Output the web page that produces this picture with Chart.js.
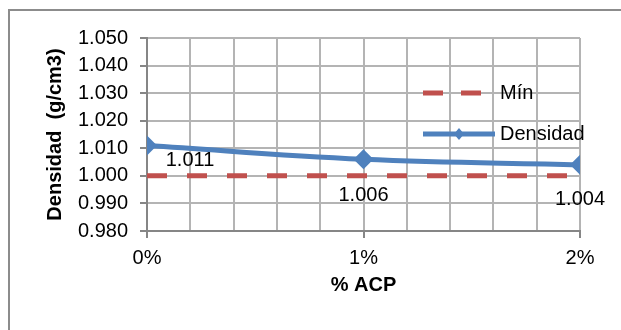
<!DOCTYPE html>
<html>
<head>
<meta charset="utf-8">
<script src="https://cdn.jsdelivr.net/npm/chart.js@4/dist/chart.umd.min.js"></script>
<style>
  html, body { margin: 0; padding: 0; background: #ffffff; }
  #wrap { width: 621px; height: 330px; }
</style>
</head>
<body>
<div id="wrap"><canvas id="c" width="621" height="330"></canvas></div>
<script>
// Densidad vs. % ACP
const acpPercent = [0, 1, 2];
const xTickLabels = ['0%', '1%', '2%'];
const densidad = [1.011, 1.006, 1.004];
const minimo = [1.000, 1.000, 1.000];
const yTickLabels = ['0.980', '0.990', '1.000', '1.010', '1.020', '1.030', '1.040', '1.050'];

const FONT = "'Liberation Sans', Arial, sans-serif";
const BLUE = '#4F81BD';
const RED = '#C0504D';
const GRID = '#b4b4b4';
const AXIS = '#868686';

// Outer frame of the chart object
const framePlugin = {
  id: 'frame',
  beforeDraw(chart) {
    const ctx = chart.ctx;
    ctx.save();
    ctx.fillStyle = '#ffffff';
    ctx.fillRect(0, 0, chart.width, chart.height);
    ctx.strokeStyle = '#8c8c8c';
    ctx.lineWidth = 2;
    ctx.strokeRect(9, 10, chart.width + 20, chart.height + 20);
    ctx.restore();
  }
};

// Value labels for the Densidad points
const valueLabelPlugin = {
  id: 'valueLabels',
  afterDatasetsDraw(chart) {
    const ctx = chart.ctx;
    const meta = chart.getDatasetMeta(0);
    const shifts = [[43, 15], [0, 36], [0, 35]];
    ctx.save();
    ctx.font = '20px ' + FONT;
    ctx.fillStyle = '#000000';
    ctx.textAlign = 'center';
    ctx.textBaseline = 'middle';
    meta.data.forEach((pt, i) => {
      const s = shifts[i] || [0, 30];
      ctx.fillText(densidad[i].toFixed(3), pt.x + s[0], pt.y + s[1]);
    });
    ctx.restore();
  }
};

// Legend drawn inside the plot area
const innerLegendPlugin = {
  id: 'innerLegend',
  afterDraw(chart) {
    const ctx = chart.ctx;
    const x0 = 423, x1 = 487, tx = 500;
    const yMin = 93, yDen = 134;
    ctx.save();
    ctx.lineWidth = 5;
    ctx.strokeStyle = RED;
    ctx.setLineDash([20, 18]);
    ctx.beginPath();
    ctx.moveTo(x0, yMin);
    ctx.lineTo(x1, yMin);
    ctx.stroke();
    ctx.setLineDash([]);
    ctx.strokeStyle = BLUE;
    ctx.beginPath();
    ctx.moveTo(x0, yDen);
    ctx.lineTo(x1 + 8, yDen);
    ctx.stroke();
    const cx = 459;
    ctx.fillStyle = BLUE;
    ctx.beginPath();
    ctx.moveTo(cx, yDen - 6);
    ctx.lineTo(cx + 5, yDen);
    ctx.lineTo(cx, yDen + 6);
    ctx.lineTo(cx - 5, yDen);
    ctx.closePath();
    ctx.fill();
    ctx.font = '20px ' + FONT;
    ctx.fillStyle = '#000000';
    ctx.textAlign = 'left';
    ctx.textBaseline = 'middle';
    ctx.fillText('Mín', tx, yMin);
    ctx.fillText('Densidad', tx, yDen);
    ctx.restore();
  }
};

const toPoints = (ys) => acpPercent.map((x, i) => ({ x: x, y: ys[i] }));

new Chart(document.getElementById('c'), {
  type: 'line',
  data: {
    datasets: [
      {
        label: 'Densidad',
        data: toPoints(densidad),
        borderColor: BLUE,
        backgroundColor: BLUE,
        borderWidth: 5,
        tension: 0.4,
        pointStyle: 'rectRot',
        pointRadius: 10,
        pointBackgroundColor: BLUE,
        pointBorderWidth: 0,
        fill: false
      },
      {
        label: 'Mín',
        data: toPoints(minimo),
        borderColor: RED,
        backgroundColor: RED,
        borderWidth: 5,
        borderDash: [20, 20],
        pointRadius: 0,
        tension: 0,
        fill: false
      }
    ]
  },
  options: {
    responsive: false,
    devicePixelRatio: 1,
    animation: false,
    layout: { padding: { left: 0, top: 38, right: 41, bottom: 0 } },
    plugins: {
      legend: { display: false },
      tooltip: { enabled: false }
    },
    scales: {
      x: {
        type: 'linear',
        min: 0,
        max: 2,
        afterFit(s) { s.height = 99; },
        ticks: {
          stepSize: 0.2,
          autoSkip: false,
          maxRotation: 0,
          padding: 8,
          color: '#000000',
          font: { family: FONT, size: 20 },
          callback(value) {
            const r = Math.round(value);
            return Math.abs(value - r) < 1e-6 ? xTickLabels[r] : '';
          }
        },
        grid: {
          color: GRID,
          lineWidth: 2,
          drawTicks: true,
          tickLength: 7,
          tickColor(ctx) {
            const v = ctx.tick ? ctx.tick.value : 0;
            return Math.abs(v - Math.round(v)) < 1e-6 ? AXIS : 'rgba(0,0,0,0)';
          }
        },
        border: { color: AXIS, width: 2 },
        title: {
          display: true,
          text: '% ACP',
          color: '#000000',
          font: { family: FONT, size: 20, weight: 'bold' },
          padding: { top: 0, bottom: 33 }
        }
      },
      y: {
        min: 0.98,
        max: 1.05,
        afterFit(s) { s.width = 147; },
        ticks: {
          stepSize: 0.01,
          padding: 12,
          color: '#000000',
          font: { family: FONT, size: 20 },
          callback(value, index) { return yTickLabels[index]; }
        },
        grid: {
          color: GRID,
          lineWidth: 2,
          drawTicks: true,
          tickLength: 7,
          tickColor: AXIS
        },
        border: { color: AXIS, width: 2 },
        title: {
          display: true,
          text: 'Densidad  (g/cm3)',
          color: '#000000',
          font: { family: FONT, size: 20, weight: 'bold' },
          padding: { top: 43, bottom: 0 }
        }
      }
    }
  },
  plugins: [framePlugin, valueLabelPlugin, innerLegendPlugin]
});
</script>
</body>
</html>
